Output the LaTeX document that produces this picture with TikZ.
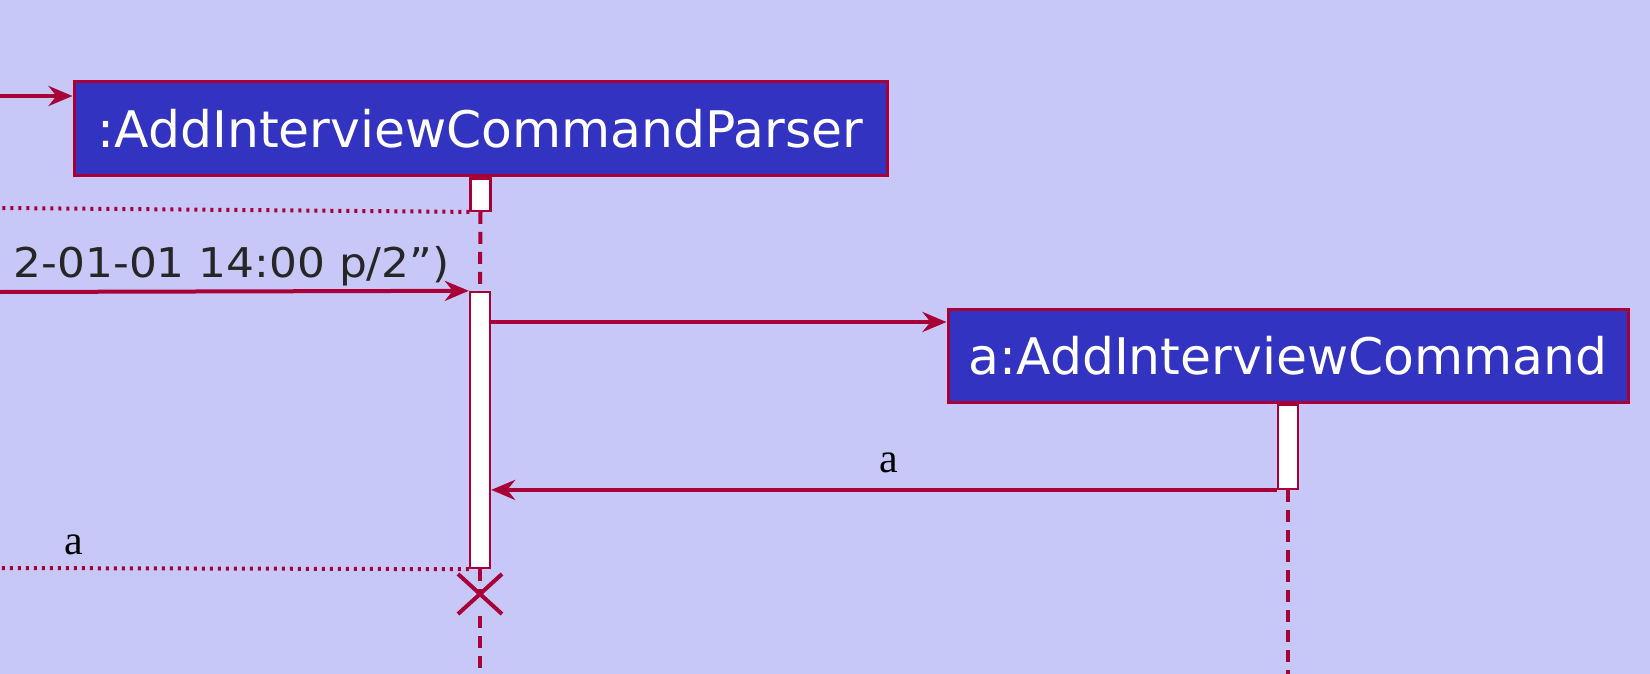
\documentclass[tikz,border=0pt]{standalone}
\usepackage{fontspec}
\setmainfont{Liberation Serif}
\newfontfamily\boxfont{DejaVu Sans}
\newfontfamily\widefont[FakeStretch=1.07]{DejaVu Sans}
\usetikzlibrary{arrows.meta}
\definecolor{bgc}{RGB}{200,200,248}
\definecolor{boxc}{RGB}{51,51,194}
\definecolor{linec}{RGB}{168,0,54}
\tikzset{
  partbox/.style={draw=linec, fill=boxc, line width=1.5pt, text=white, inner sep=0pt,
    font=\boxfont\fontsize{25.2}{30}\selectfont},
  actbar/.style={draw=linec, fill=white, line width=1.2pt, inner sep=0pt, minimum width=10pt},
  msg/.style={draw=linec, line width=2pt, -{Stealth[length=12pt,width=10pt,inset=4pt]}},
  retmsg/.style={draw=linec, line width=2pt, dash pattern=on 1.5pt off 2.5pt},
  lifeline/.style={draw=linec, line width=2pt, dash pattern=on 6pt off 4pt},
  lbl/.style={font=\fontsize{21}{24}\selectfont, text=black, inner sep=0pt},
  sanslbl/.style={font=\widefont\fontsize{20.5}{24}\selectfont, text=black!85, inner sep=0pt},
}
\begin{document}
\begin{tikzpicture}[x=0.5pt,y=-0.5pt]
\fill[bgc] (0,0) rectangle (1650,674);
\useasboundingbox (0,0) rectangle (1650,674);
\clip (0,0) rectangle (1650,674);
% participants
\node[partbox, minimum width=406.5pt, minimum height=47pt] (p1) at (480.5,129) {:AddInterviewCommandParser};
\node[partbox, minimum width=340pt, minimum height=46.5pt] (p2) at (1288,355.5) {a:AddInterviewCommand};
% activation bars
\node[actbar, minimum height=16pt, anchor=north] (b1a) at (p1.south) {};
\node[actbar, minimum height=138pt] (b1b) at (480,430) {};
\node[actbar, minimum height=42pt, anchor=north] (b2) at (p2.south) {};
% coordinates at the picture edge
\coordinate (in1) at (0,96);
\coordinate (r1) at (0,208);
\coordinate (in2) at (0,292);
\coordinate (r2) at (0,568);
\coordinate (xc) at (480,594);
\coordinate (end1) at (480,674);
\coordinate (end2) at (1288,674);
% lifelines
\draw[lifeline] (b1a.south) -- (b1b.north);
\draw[lifeline] (b1b.south) -- (xc);
\draw[lifeline] ([yshift=-11pt]xc) -- (end1);
\draw[lifeline] (b2.south) -- (end2);
% messages
\draw[msg] (in1) -- (in1 -| p1.west);
\draw[retmsg] (b1a.south west) -- (r1);
\draw[msg] (in2) -- (b1b.north west);
\node[sanslbl, anchor=base east] (t1) at (450,278) {2-01-01 14:00 p/2”)};
\draw[msg] (b1b.east |- 0,322) -- (p2.west |- 0,322);
\draw[msg] (b2.south west) -- (b1b.east |- b2.south west);
\node[lbl, anchor=base] (la1) at (889,472) {a};
\draw[retmsg] (b1b.south west) -- (r2);
\node[lbl, anchor=base] (la2) at (74,554) {a};
% destroy
\draw[draw=linec, line width=2pt] ([shift={(-22,-20)}]xc) -- ([shift={(22,20)}]xc)
  ([shift={(-22,20)}]xc) -- ([shift={(22,-20)}]xc);
\end{tikzpicture}
\end{document}
